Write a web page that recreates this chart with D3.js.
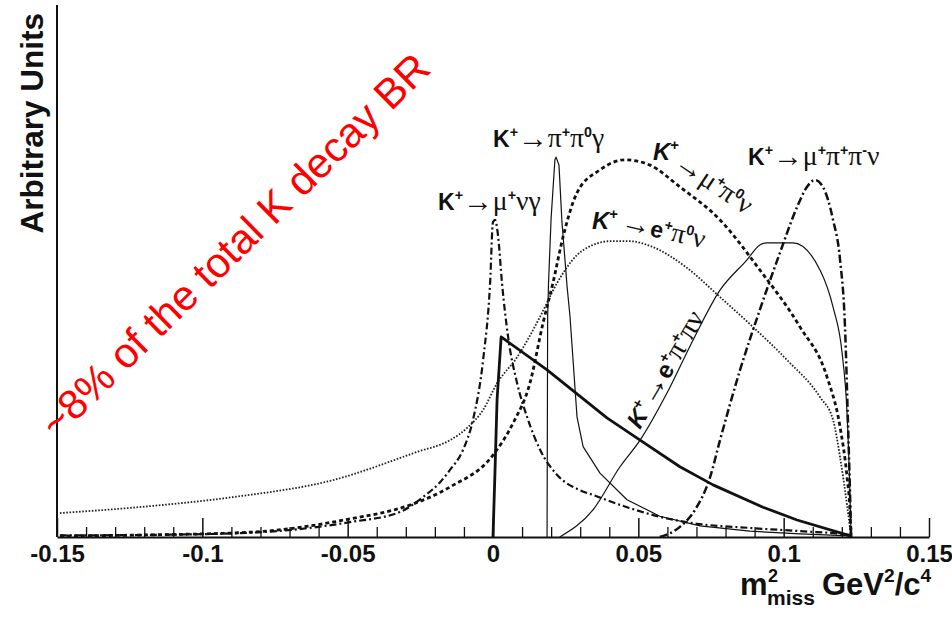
<!DOCTYPE html>
<html><head><meta charset="utf-8">
<script src="https://cdn.jsdelivr.net/npm/d3@7"></script>
<style>
html,body{margin:0;padding:0;background:#fff;}
svg{display:block;}
</style></head>
<body>
<svg id="chart" width="952" height="637"></svg>
<script>
// ---------- DATA (m^2_miss in GeV^2/c^4, arbitrary units) ----------
const xMajorTicks = [-0.15, -0.1, -0.05, 0, 0.05, 0.1, 0.15];
const xTickLabels = ["-0.15", "-0.1", "-0.05", "0", "0.05", "0.1", "0.15"];
const xMinorTicks = [-0.14,-0.13,-0.12,-0.11,-0.09,-0.08,-0.07,-0.06,-0.04,-0.03,-0.02,-0.01,
                     0.01,0.02,0.03,0.04,0.06,0.07,0.08,0.09,0.11,0.12,0.13,0.14];

// K+ -> mu+ nu gamma (dash-dot)
const muNuGammaX = [-0.149,-0.118,-0.0836,-0.0492,-0.032,-0.0241,-0.0182,-0.0148,-0.0103,-0.0069,-0.0034,-0.0010,0.0,0.0007,0.0017,0.0031,0.0052,0.0083,0.0117,0.0162,0.0220,0.0299,0.0344,0.0461,0.0574,0.0688,0.0884,0.1056,0.1228,0.1232];
const muNuGammaY = [0.3,0.4,0.8,2.8,4.7,7.5,10.3,12.6,16.4,22.0,33.3,47.7,59.2,59.6,56.8,47.7,37.6,28.9,22.6,16.4,11.7,8.8,7.9,5.6,3.8,2.6,1.7,1.1,0.4,0];

// K+ -> mu+ pi0 nu (bold short dashes)
const muPi0NuX = [-0.149,-0.118,-0.0836,-0.0492,-0.0286,-0.0148,0.0,0.0069,0.0127,0.0172,0.0206,0.0241,0.0289,0.0368,0.0454,0.0540,0.0643,0.0781,0.0918,0.1056,0.1149,0.1194,0.1218,0.1228,0.1232];
const muPi0NuY = [0.2,0.4,0.9,3.4,6.0,9.4,15.4,21.4,28.9,40.2,47.7,56.4,64.7,69.0,70.9,69.9,65.8,59.6,50.2,39.5,30.1,20.7,11.3,5.1,0];

// K+ -> e+ pi0 nu (fine dots)
const ePi0NuX = [-0.149,-0.118,-0.0894,-0.055,-0.0261,-0.0148,-0.0089,-0.0034,0.0014,0.0083,0.0162,0.0220,0.0289,0.0344,0.0402,0.0471,0.0550,0.0667,0.0781,0.0894,0.1011,0.1125,0.1170,0.1194,0.1218,0.1232];
const ePi0NuY = [4.5,5.8,7.5,10.7,16.0,18.2,20.5,23.9,28.9,33.8,41.4,47.7,53.0,54.9,55.6,55.6,54.5,50.6,45.1,39.5,33.3,26.3,22.0,15.0,6.0,0];

// K+ -> pi+ pi0 gamma (thin solid)
const piPi0GammaX = [0.0186,0.0188,0.0191,0.0200,0.0213,0.0217,0.0227,0.0237,0.0255,0.0265,0.0289,0.0310,0.0368,0.0461,0.0574,0.0712,0.0884,0.1056,0.1228,0.1232];
const piPi0GammaY = [0,41.4,47.7,60.0,70.9,71.4,69.9,59.4,47.0,41.4,22.6,17.0,12.0,7.0,3.9,2.1,1.1,0.6,0.2,0];

// unlabelled thick solid distribution
const thickX = [0.0,0.0007,0.0014,0.0028,0.0186,0.0392,0.0506,0.0643,0.0757,0.0929,0.1046,0.1218,0.1232];
const thickY = [0,12.6,25.8,37.6,31.4,22.4,18.2,13.2,9.8,5.6,3.2,0.4,0];

// K+ -> mu+ pi+ pi- nu (bold dash-dot)
const muPiPiNuX = [0.0574,0.0643,0.0695,0.0746,0.0781,0.0850,0.0918,0.0987,0.1046,0.1080,0.1108,0.1135,0.1170,0.1194,0.1211,0.1221,0.1228,0.1232];
const muPiPiNuY = [0,1.9,5.1,11.1,18.2,31.4,42.7,53.4,62.0,65.8,67.1,65.8,59.6,52.1,39.5,22.0,8.8,0];

// K+ -> e+ pi+ pi- nu (thin solid)
const ePiPiNuX = [0.0230,0.0344,0.0437,0.0506,0.0599,0.0688,0.0781,0.0874,0.0918,0.0943,0.1032,0.1125,0.1170,0.1201,0.1218,0.1228,0.1232];
const ePiPiNuY = [0,5.1,13.2,18.2,27.1,37.0,46.4,52.1,54.9,55.3,55.3,50.2,43.2,34.6,23.3,8.3,0];

// ---------- DRAWING ----------
const svg = d3.select("#chart");
svg.append("rect").attr("width",952).attr("height",637).attr("fill","#fff");

const x = d3.scaleLinear().domain([-0.15, 0.15]).range([57, 929]);
const y = d3.scaleLinear().domain([0, 100]).range([537, 5]);

const SANS = "'Liberation Sans', Arial, Helvetica, sans-serif";
const SERIF = "'Liberation Serif', 'DejaVu Serif', 'Times New Roman', serif";

// axes
const minorAxis = d3.axisBottom(x).tickValues(xMinorTicks).tickSize(-10).tickSizeOuter(0).tickFormat("");
svg.append("g").attr("transform","translate(0,537)").call(minorAxis)
  .call(g=>g.select(".domain").remove())
  .call(g=>g.selectAll("line").attr("stroke","#111").attr("stroke-width",1.3));

const majorAxis = d3.axisBottom(x).tickValues(xMajorTicks).tickSize(-19).tickSizeOuter(0)
  .tickPadding(8).tickFormat((d,i)=>xTickLabels[i]);
const gx = svg.append("g").attr("transform","translate(0,537)").call(majorAxis);
gx.select(".domain").attr("stroke","#111").attr("stroke-width",2);
gx.selectAll("line").attr("stroke","#111").attr("stroke-width",1.5);
gx.selectAll("text").attr("font-family",SANS).attr("font-weight","bold").attr("font-size",24).attr("fill","#111");

svg.append("line").attr("x1",x(-0.15)).attr("x2",x(-0.15)).attr("y1",y(100)).attr("y2",y(0))
  .attr("stroke","#111").attr("stroke-width",2);

// curves
const series = [
  {xs: ePi0NuX, ys: ePi0NuY, w:1.8, dash:"1.6,1.6", color:"#222", curve:d3.curveMonotoneX},
  {xs: muNuGammaX, ys: muNuGammaY, w:2.2, dash:"7,3,2,3", color:"#111", curve:d3.curveMonotoneX},
  {xs: muPi0NuX, ys: muPi0NuY, w:2.8, dash:"4,3", color:"#111", curve:d3.curveMonotoneX},
  {xs: piPi0GammaX, ys: piPi0GammaY, w:1.2, dash:null, color:"#111", curve:d3.curveLinear},
  {xs: ePiPiNuX, ys: ePiPiNuY, w:1.2, dash:null, color:"#111", curve:d3.curveMonotoneX},
  {xs: muPiPiNuX, ys: muPiPiNuY, w:2.5, dash:"8,3,2,3", color:"#111", curve:d3.curveMonotoneX},
  {xs: thickX, ys: thickY, w:2.8, dash:null, color:"#111", curve:d3.curveLinear}
];
series.forEach(s=>{
  const pts = s.xs.map((v,i)=>[v, s.ys[i]]);
  const line = d3.line().x(d=>x(d[0])).y(d=>y(d[1])).curve(s.curve);
  svg.append("path").datum(pts).attr("d",line).attr("fill","none")
    .attr("stroke",s.color).attr("stroke-width",s.w)
    .attr("stroke-dasharray",s.dash).attr("stroke-linejoin","round");
});

// label helper: kinds: b (bold sans), bi (bold italic sans), s (serif greek), a (arrow), sup
function label(parent, parts, fs, attrs){
  const t = parent.append("text").attr("fill","#111").attr("font-size",fs);
  Object.entries(attrs||{}).forEach(([k,v])=>t.attr(k,v));
  let shift = 0;
  parts.forEach(([txt,kind])=>{
    const ts = t.append("tspan").text(txt);
    let target = 0;
    if(kind==="sup"){ target = -0.42*fs; ts.attr("font-size",fs*0.62).attr("font-family",SANS).attr("font-weight","bold"); }
    else if(kind==="b"){ ts.attr("font-family",SANS).attr("font-weight","bold"); }
    else if(kind==="bi"){ ts.attr("font-family",SANS).attr("font-weight","bold").attr("font-style","italic"); }
    else if(kind==="a"){ target = 0.03*fs; ts.attr("font-family",SERIF).attr("font-size",fs*1.3); }
    else { ts.attr("font-family",SERIF).attr("font-size",fs*1.2); }
    ts.attr("dy", target - shift);
    shift = target;
  });
  return t;
}

label(svg, [["K","b"],["+","sup"],["\u2192","a"],["\u03bc","s"],["+","sup"],["\u03bd","s"],["\u03b3","s"]], 23, {x:438, y:210});
label(svg, [["K","b"],["+","sup"],["\u2192","a"],["\u03c0","s"],["+","sup"],["\u03c0","s"],["0","sup"],["\u03b3","s"]], 23, {x:493, y:147});
label(svg, [["K","b"],["+","sup"],["\u2192","a"],["\u03bc","s"],["+","sup"],["\u03c0","s"],["+","sup"],["\u03c0","s"],["-","sup"],["\u03bd","s"]], 23, {x:748, y:165});

// K+ -> mu+ pi0 nu (tilted)
label(svg, [["K","bi"],["+","sup"]], 24, {x:653, y:160});
label(svg, [["\u2192","a"],["\u03bc","s"],["+","sup"],["\u03c0","s"],["0","sup"],["\u03bd","s"]], 23, {transform:"translate(673,166) rotate(34)"});

// K+ -> e+ pi0 nu (tilted)
label(svg, [["K","bi"],["+","sup"]], 24, {x:592, y:229});
label(svg, [["\u2192","a"],["e","b"],["+","sup"],["\u03c0","s"],["0","sup"],["\u03bd","s"]], 23, {transform:"translate(620,229) rotate(13)"});

// K+ -> e+ pi+ pi- nu (steep)
label(svg, [["K","bi"],["+","sup"],["\u2192","a"],["e","b"],["+","sup"],["\u03c0","s"],["+","sup"],["\u03c0","s"],["\u03bd","s"]], 24, {transform:"translate(640,430) rotate(-60)"});

// axis titles
svg.append("text").attr("transform","translate(43,13) rotate(-90)").attr("text-anchor","end")
  .attr("font-family",SANS).attr("font-weight","bold").attr("font-size",31.5).attr("fill","#111")
  .text("Arbitrary Units");

svg.append("text").attr("x",740).attr("y",595).attr("font-family",SANS).attr("font-weight","bold").attr("font-size",31).attr("fill","#111").text("m");
svg.append("text").attr("x",768).attr("y",582).attr("font-family",SANS).attr("font-weight","bold").attr("font-size",18).attr("fill","#111").text("2");
svg.append("text").attr("x",767).attr("y",605).attr("font-family",SANS).attr("font-weight","bold").attr("font-size",21).attr("fill","#111").text("miss");
label(svg, [["GeV","b"],["2","sup"],["/c","b"],["4","sup"]], 31, {x:822, y:595});

// red annotation
svg.append("text").attr("transform","translate(57,440) rotate(-44.5)")
  .attr("font-family",SANS).attr("font-size",42).attr("fill","#ff0000")
  .text("~8% of the total K decay BR");
</script>
</body></html>
